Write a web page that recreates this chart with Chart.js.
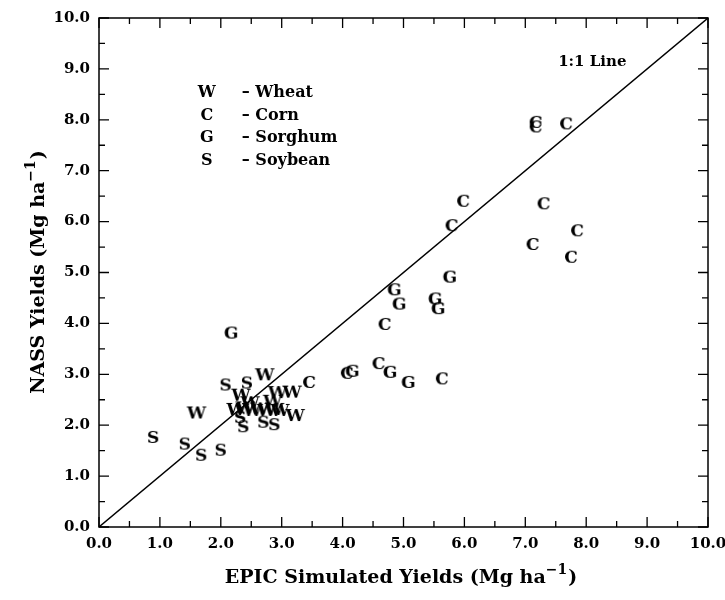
<!DOCTYPE html>
<html>
<head>
<meta charset="utf-8">
<title>EPIC vs NASS yields</title>
<script src="https://cdn.jsdelivr.net/npm/chart.js@4.4.1/dist/chart.umd.min.js"></script>
<style>
  body { margin: 0; background: #fff; }
  #wrap { width: 725px; height: 600px; }
</style>
</head>
<body>
<div id="wrap"><canvas id="yieldChart" width="725" height="600"></canvas></div>
<script>
// EPIC simulated (x) vs NASS reported (y) yields, Mg/ha
const wheatX = [1.60, 2.72, 2.33, 2.93, 3.17, 2.25, 2.40, 2.52, 2.63, 2.75, 2.88, 2.97, 3.22, 2.85, 2.48];
const wheatY = [2.25, 3.00, 2.60, 2.65, 2.66, 2.32, 2.35, 2.30, 2.33, 2.30, 2.32, 2.30, 2.20, 2.48, 2.45];

const cornX = [7.17, 7.17, 7.67, 5.98, 5.79, 7.30, 7.12, 7.85, 7.75, 4.69, 4.59, 5.63, 4.07, 3.45];
const cornY = [7.96, 7.87, 7.93, 6.41, 5.93, 6.36, 5.56, 5.83, 5.31, 3.99, 3.22, 2.92, 3.03, 2.85];

const sorghumX = [5.76, 4.85, 4.93, 5.52, 5.57, 4.78, 5.08, 4.16, 2.17];
const sorghumY = [4.92, 4.67, 4.39, 4.49, 4.30, 3.05, 2.85, 3.07, 3.82];

const soybeanX = [0.89, 1.41, 1.68, 2.00, 2.08, 2.43, 2.32, 2.37, 2.70, 2.88];
const soybeanY = [1.77, 1.64, 1.42, 1.52, 2.80, 2.84, 2.16, 1.98, 2.07, 2.02];

const lineX = [0, 10];
const lineY = [0, 10];

const legendLetters = ["W", "C", "G", "S"];
const legendNames = ["\u2013 Wheat", "\u2013 Corn", "\u2013 Sorghum", "\u2013 Soybean"];

const serif = '"DejaVu Serif", "Liberation Serif", serif';

function pts(xs, ys) {
  return xs.map((x, i) => ({ x: x, y: ys[i] }));
}

// letter used as point marker
function letterMark(ch) {
  const c = document.createElement("canvas");
  c.width = 26;
  c.height = 24;
  const g = c.getContext("2d");
  g.fillStyle = "#000";
  g.font = "bold 17px " + serif;
  g.textAlign = "center";
  g.textBaseline = "alphabetic";
  g.fillText(ch, 13, 18);
  return c;
}

function letterSet(label, xs, ys) {
  return {
    label: label,
    data: pts(xs, ys),
    pointStyle: letterMark(label[0]),
    pointRadius: 5,
    showLine: false
  };
}

// box, inward ticks, axis titles and the in-plot text
const framePlugin = {
  id: "frame",
  afterDraw(chart) {
    const ctx = chart.ctx;
    const a = chart.chartArea;
    const xs = chart.scales.x;
    const ys = chart.scales.y;
    ctx.save();
    ctx.strokeStyle = "#000";
    ctx.lineWidth = 1.5;
    ctx.strokeRect(a.left, a.top, a.right - a.left, a.bottom - a.top);

    ctx.lineWidth = 1.3;
    ctx.beginPath();
    for (let v = 0; v <= 10; v += 0.5) {
      const len = Number.isInteger(v) ? 10 : 6;
      const px = xs.getPixelForValue(v);
      const py = ys.getPixelForValue(v);
      ctx.moveTo(px, a.bottom); ctx.lineTo(px, a.bottom - len);
      ctx.moveTo(px, a.top); ctx.lineTo(px, a.top + len);
      ctx.moveTo(a.left, py); ctx.lineTo(a.left + len, py);
      ctx.moveTo(a.right, py); ctx.lineTo(a.right - len, py);
    }
    ctx.stroke();

    ctx.fillStyle = "#000";
    ctx.textBaseline = "alphabetic";

    // legend
    ctx.font = "bold 16px " + serif;
    const lx = xs.getPixelForValue(1.77);
    legendLetters.forEach((ch, i) => {
      const ly = ys.getPixelForValue(8.45 - i * 0.445);
      ctx.textAlign = "center";
      ctx.fillText(ch, lx, ly);
      ctx.textAlign = "left";
      ctx.fillText(legendNames[i], lx + 35, ly);
    });

    ctx.font = "bold 15px " + serif;
    ctx.textAlign = "center";
    ctx.fillText("1:1 Line", xs.getPixelForValue(8.1), ys.getPixelForValue(9.05));

    // axis titles with superscript
    drawTitle(ctx, "EPIC Simulated Yields (Mg ha", 401, 583, 0);
    drawTitle(ctx, "NASS Yields (Mg ha", 44, 272, -Math.PI / 2);
    ctx.restore();
  }
};

function drawTitle(ctx, main, cx, cy, rot) {
  const big = "bold 19px " + serif;
  const small = "bold 14px " + serif;
  ctx.save();
  ctx.translate(cx, cy);
  ctx.rotate(rot);
  ctx.font = big;
  const w1 = ctx.measureText(main).width;
  const w3 = ctx.measureText(")").width;
  ctx.font = small;
  const w2 = ctx.measureText("\u22121").width;
  let x = -(w1 + w2 + w3 + 1) / 2;
  ctx.textAlign = "left";
  ctx.font = big;
  ctx.fillText(main, x, 0);
  x += w1;
  ctx.font = small;
  ctx.fillText("\u22121", x, -9);
  x += w2 + 1;
  ctx.font = big;
  ctx.fillText(")", x, 0);
  ctx.restore();
}

const tickFont = { family: serif, size: 15, weight: "bold" };

new Chart(document.getElementById("yieldChart"), {
  type: "scatter",
  data: {
    datasets: [
      letterSet("W", wheatX, wheatY),
      letterSet("C", cornX, cornY),
      letterSet("G", sorghumX, sorghumY),
      letterSet("S", soybeanX, soybeanY),
      {
        type: "line",
        label: "1:1",
        data: pts(lineX, lineY),
        borderColor: "#000",
        borderWidth: 1.4,
        pointRadius: 0,
        fill: false
      }
    ]
  },
  options: {
    responsive: false,
    animation: false,
    events: [],
    layout: { padding: { top: 18, right: 17, left: 0, bottom: 0 } },
    plugins: { legend: { display: false }, tooltip: { enabled: false } },
    scales: {
      x: {
        type: "linear",
        min: 0,
        max: 10,
        afterFit: s => { s.height = 73; s.paddingLeft = 0; s.paddingRight = 0; },
        grid: { display: false, drawTicks: false },
        border: { display: false },
        ticks: {
          stepSize: 0.5,
          autoSkip: false,
          maxRotation: 0,
          padding: 8,
          color: "#000",
          font: tickFont,
          callback: v => Number.isInteger(v) ? v.toFixed(1) : ""
        }
      },
      y: {
        type: "linear",
        min: 0,
        max: 10,
        afterFit: s => { s.width = 99; s.paddingTop = 0; s.paddingBottom = 0; },
        grid: { display: false, drawTicks: false },
        border: { display: false },
        ticks: {
          stepSize: 0.5,
          autoSkip: false,
          padding: 9,
          color: "#000",
          font: tickFont,
          callback: v => Number.isInteger(v) ? v.toFixed(1) : ""
        }
      }
    }
  },
  plugins: [framePlugin]
});
</script>
</body>
</html>
